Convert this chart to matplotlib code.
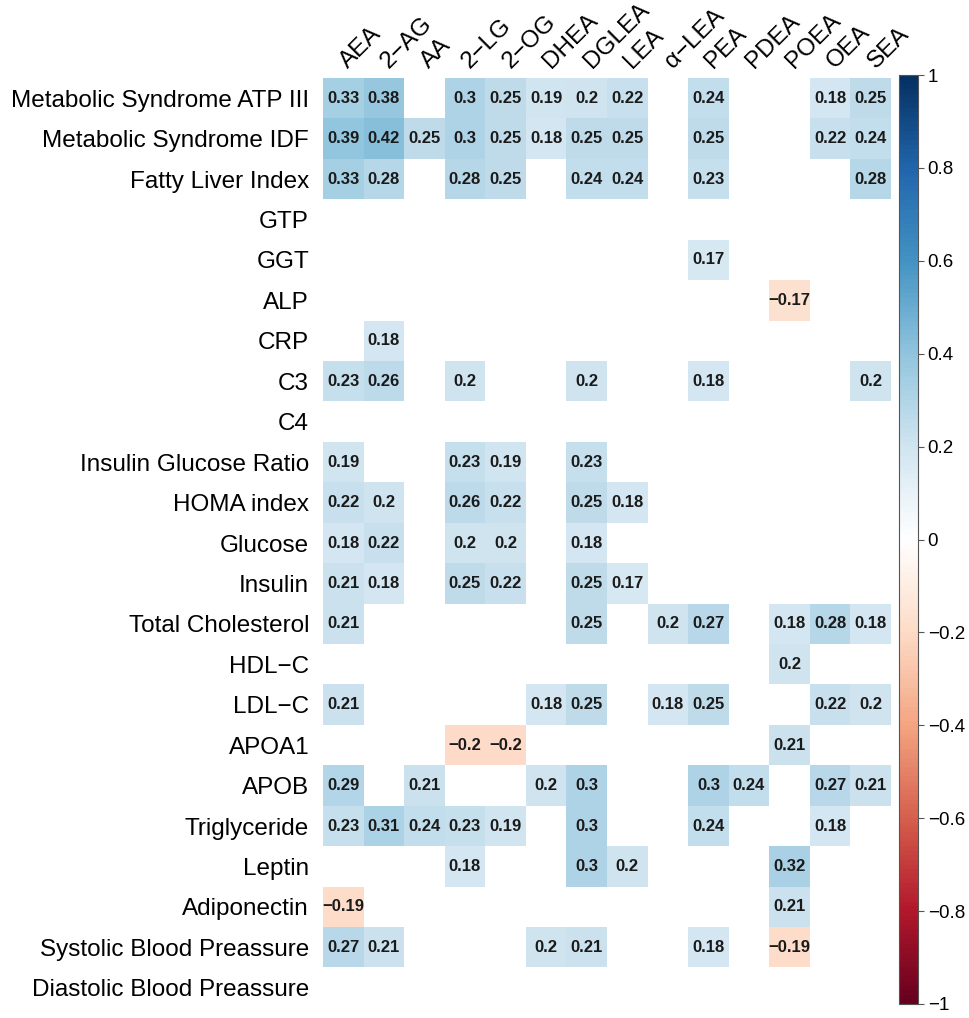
import numpy as np
import matplotlib.pyplot as plt
from matplotlib.colors import LinearSegmentedColormap

plt.rcParams['font.family'] = ['Liberation Sans', 'DejaVu Sans']

# column / row names
metabolites = ["AEA", "2\u2212AG", "AA", "2\u2212LG", "2\u2212OG", "DHEA", "DGLEA",
               "LEA", "\u03b1\u2212LEA", "PEA", "PDEA", "POEA", "OEA", "SEA"]
traits = ["Metabolic Syndrome ATP III", "Metabolic Syndrome IDF", "Fatty Liver Index",
          "GTP", "GGT", "ALP", "CRP", "C3", "C4", "Insulin Glucose Ratio",
          "HOMA index", "Glucose", "Insulin", "Total Cholesterol", "HDL\u2212C",
          "LDL\u2212C", "APOA1", "APOB", "Triglyceride", "Leptin", "Adiponectin",
          "Systolic Blood Preassure", "Diastolic Blood Preassure"]

n = np.nan
# significant correlations only (blank = not significant)
corr = np.array([
    [0.33, 0.38, n, 0.30, 0.25, 0.19, 0.20, 0.22, n, 0.24, n, n, 0.18, 0.25],
    [0.39, 0.42, 0.25, 0.30, 0.25, 0.18, 0.25, 0.25, n, 0.25, n, n, 0.22, 0.24],
    [0.33, 0.28, n, 0.28, 0.25, n, 0.24, 0.24, n, 0.23, n, n, n, 0.28],
    [n, n, n, n, n, n, n, n, n, n, n, n, n, n],
    [n, n, n, n, n, n, n, n, n, 0.17, n, n, n, n],
    [n, n, n, n, n, n, n, n, n, n, n, -0.17, n, n],
    [n, 0.18, n, n, n, n, n, n, n, n, n, n, n, n],
    [0.23, 0.26, n, 0.20, n, n, 0.20, n, n, 0.18, n, n, n, 0.20],
    [n, n, n, n, n, n, n, n, n, n, n, n, n, n],
    [0.19, n, n, 0.23, 0.19, n, 0.23, n, n, n, n, n, n, n],
    [0.22, 0.20, n, 0.26, 0.22, n, 0.25, 0.18, n, n, n, n, n, n],
    [0.18, 0.22, n, 0.20, 0.20, n, 0.18, n, n, n, n, n, n, n],
    [0.21, 0.18, n, 0.25, 0.22, n, 0.25, 0.17, n, n, n, n, n, n],
    [0.21, n, n, n, n, n, 0.25, n, 0.20, 0.27, n, 0.18, 0.28, 0.18],
    [n, n, n, n, n, n, n, n, n, n, n, 0.20, n, n],
    [0.21, n, n, n, n, 0.18, 0.25, n, 0.18, 0.25, n, n, 0.22, 0.20],
    [n, n, n, -0.20, -0.20, n, n, n, n, n, n, 0.21, n, n],
    [0.29, n, 0.21, n, n, 0.20, 0.30, n, n, 0.30, 0.24, n, 0.27, 0.21],
    [0.23, 0.31, 0.24, 0.23, 0.19, n, 0.30, n, n, 0.24, n, n, 0.18, n],
    [n, n, n, 0.18, n, n, 0.30, 0.20, n, n, n, 0.32, n, n],
    [-0.19, n, n, n, n, n, n, n, n, n, n, 0.21, n, n],
    [0.27, 0.21, n, n, n, 0.20, 0.21, n, n, 0.18, n, -0.19, n, n],
    [n, n, n, n, n, n, n, n, n, n, n, n, n, n],
])

cbar_ticks = [1, 0.8, 0.6, 0.4, 0.2, 0, -0.2, -0.4, -0.6, -0.8, -1]

# corrplot RdBu ramp
cmap = LinearSegmentedColormap.from_list("rdbu", [
    "#67001F", "#B2182B", "#D6604D", "#F4A582", "#FDDBC7", "#FFFFFF",
    "#D1E5F0", "#92C5DE", "#4393C3", "#2166AC", "#053061"], N=200)
cmap.set_bad("white")

fig = plt.figure(figsize=(9.70, 10.18), dpi=100)
ax = fig.add_axes([323 / 970, 10 / 1018, 568 / 970, 930 / 1018])
im = ax.imshow(np.ma.masked_invalid(corr), cmap=cmap, vmin=-1, vmax=1,
               aspect="auto", interpolation="nearest")

for i in range(corr.shape[0]):
    for j in range(corr.shape[1]):
        v = corr[i, j]
        if not np.isnan(v):
            txt = ("%.2f" % v).rstrip("0").replace("-", "\u2212")
            ax.text(j, i, txt, ha="center", va="center", fontsize=12,
                    fontweight="bold", color="#1a1a1a")

ax.set_yticks(range(len(traits)))
ax.set_yticklabels(traits, fontsize=17.5)
ax.tick_params(axis="y", length=0, pad=10)
ax.set_xticks([])
for s in ax.spines.values():
    s.set_visible(False)

# rotated column labels above the grid
for j, name in enumerate(metabolites):
    ax.text(j + 0.12, -0.72, name, rotation=45, ha="left", va="baseline",
            rotation_mode="anchor", fontsize=17.5, color="black")

cax = fig.add_axes([899 / 970, 14 / 1018, 19 / 970, 929 / 1018])
cb = fig.colorbar(im, cax=cax, ticks=cbar_ticks)
cb.ax.set_yticklabels([("%g" % t).replace("-", "\u2212") for t in cbar_ticks],
                      fontsize=13.5)
cb.ax.tick_params(length=4, width=0.8, color="#555555", pad=3)
cb.outline.set_edgecolor("#555555")
cb.outline.set_linewidth(0.8)

plt.savefig("out.png", dpi=100)
